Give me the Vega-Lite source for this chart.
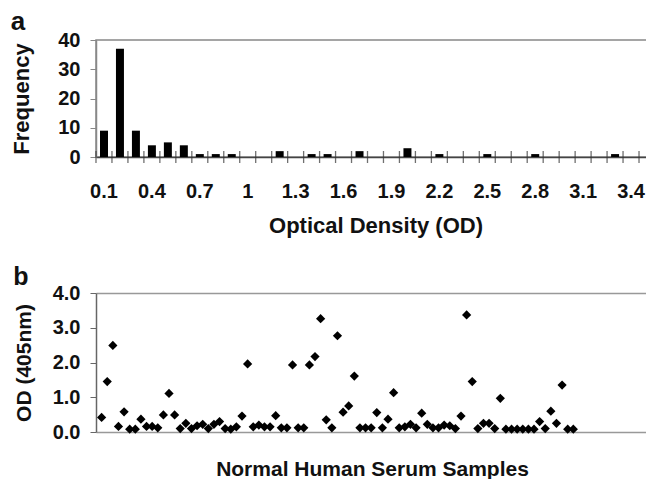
{
  "$schema": "https://vega.github.io/schema/vega-lite/v6.json",
  "background": "white",
  "padding": {"left": 10, "top": 8, "right": 3, "bottom": 0},
  "config": {
    "font": "Liberation Sans",
    "view": {"stroke": null},
    "axis": {"labelFontWeight": "bold", "titleFontWeight": "bold", "labelColor": "#111", "titleColor": "#111"}
  },
  "datasets": {
    "hist": [
      {"od": "0.1", "freq": 9}, {"od": "0.2", "freq": 37}, {"od": "0.3", "freq": 9}, {"od": "0.4", "freq": 4},
      {"od": "0.5", "freq": 5}, {"od": "0.6", "freq": 4}, {"od": "0.7", "freq": 1}, {"od": "0.8", "freq": 1},
      {"od": "0.9", "freq": 1}, {"od": "1", "freq": 0}, {"od": "1.1", "freq": 0}, {"od": "1.2", "freq": 2},
      {"od": "1.3", "freq": 0}, {"od": "1.4", "freq": 1}, {"od": "1.5", "freq": 1}, {"od": "1.6", "freq": 0},
      {"od": "1.7", "freq": 2}, {"od": "1.8", "freq": 0}, {"od": "1.9", "freq": 0}, {"od": "2", "freq": 3},
      {"od": "2.1", "freq": 0}, {"od": "2.2", "freq": 1}, {"od": "2.3", "freq": 0}, {"od": "2.4", "freq": 0},
      {"od": "2.5", "freq": 1}, {"od": "2.6", "freq": 0}, {"od": "2.7", "freq": 0}, {"od": "2.8", "freq": 1},
      {"od": "2.9", "freq": 0}, {"od": "3", "freq": 0}, {"od": "3.1", "freq": 0}, {"od": "3.2", "freq": 0},
      {"od": "3.3", "freq": 1}, {"od": "3.4", "freq": 0}, {"od": "3.5", "freq": 0}
    ],
    "samples": [
      {"sample": 1, "od": 0.42}, {"sample": 2, "od": 1.45}, {"sample": 3, "od": 2.49}, {"sample": 4, "od": 0.16},
      {"sample": 5, "od": 0.58}, {"sample": 6, "od": 0.08}, {"sample": 7, "od": 0.08}, {"sample": 8, "od": 0.37},
      {"sample": 9, "od": 0.16}, {"sample": 10, "od": 0.16}, {"sample": 11, "od": 0.12}, {"sample": 12, "od": 0.49},
      {"sample": 13, "od": 1.11}, {"sample": 14, "od": 0.49}, {"sample": 15, "od": 0.1}, {"sample": 16, "od": 0.25},
      {"sample": 17, "od": 0.1}, {"sample": 18, "od": 0.18}, {"sample": 19, "od": 0.22}, {"sample": 20, "od": 0.1},
      {"sample": 21, "od": 0.22}, {"sample": 22, "od": 0.3}, {"sample": 23, "od": 0.1}, {"sample": 24, "od": 0.08},
      {"sample": 25, "od": 0.15}, {"sample": 26, "od": 0.46}, {"sample": 27, "od": 1.96}, {"sample": 28, "od": 0.15},
      {"sample": 29, "od": 0.2}, {"sample": 30, "od": 0.15}, {"sample": 31, "od": 0.15}, {"sample": 32, "od": 0.47},
      {"sample": 33, "od": 0.12}, {"sample": 34, "od": 0.12}, {"sample": 35, "od": 1.93}, {"sample": 36, "od": 0.12},
      {"sample": 37, "od": 0.12}, {"sample": 38, "od": 1.93}, {"sample": 39, "od": 2.17}, {"sample": 40, "od": 3.26},
      {"sample": 41, "od": 0.35}, {"sample": 42, "od": 0.12}, {"sample": 43, "od": 2.77}, {"sample": 44, "od": 0.57},
      {"sample": 45, "od": 0.75}, {"sample": 46, "od": 1.61}, {"sample": 47, "od": 0.12}, {"sample": 48, "od": 0.12},
      {"sample": 49, "od": 0.12}, {"sample": 50, "od": 0.56}, {"sample": 51, "od": 0.12}, {"sample": 52, "od": 0.37},
      {"sample": 53, "od": 1.13}, {"sample": 54, "od": 0.12}, {"sample": 55, "od": 0.15}, {"sample": 56, "od": 0.22},
      {"sample": 57, "od": 0.12}, {"sample": 58, "od": 0.54}, {"sample": 59, "od": 0.22}, {"sample": 60, "od": 0.12},
      {"sample": 61, "od": 0.12}, {"sample": 62, "od": 0.2}, {"sample": 63, "od": 0.18}, {"sample": 64, "od": 0.1},
      {"sample": 65, "od": 0.46}, {"sample": 66, "od": 3.37}, {"sample": 67, "od": 1.45}, {"sample": 68, "od": 0.1},
      {"sample": 69, "od": 0.25}, {"sample": 70, "od": 0.25}, {"sample": 71, "od": 0.1}, {"sample": 72, "od": 0.97},
      {"sample": 73, "od": 0.08}, {"sample": 74, "od": 0.08}, {"sample": 75, "od": 0.08}, {"sample": 76, "od": 0.08},
      {"sample": 77, "od": 0.08}, {"sample": 78, "od": 0.08}, {"sample": 79, "od": 0.3}, {"sample": 80, "od": 0.1},
      {"sample": 81, "od": 0.6}, {"sample": 82, "od": 0.25}, {"sample": 83, "od": 1.35}, {"sample": 84, "od": 0.08},
      {"sample": 85, "od": 0.08}
    ]
  },
  "columns": 1,
  "align": "none",
  "spacing": 28,
  "concat": [
    {
      "title": {"text": "a", "anchor": "start", "frame": "bounds", "fontSize": 26, "fontWeight": "bold", "color": "#111", "offset": -5},
      "width": 559,
      "height": 117,
      "view": {"stroke": "#888", "strokeWidth": 1.5},
      "data": {"name": "hist"},
      "layer": [
        {
          "mark": {"type": "bar", "color": "black", "width": {"band": 0.5}},
          "encoding": {
            "x": {
              "field": "od", "type": "ordinal", "sort": null,
              "scale": {"paddingInner": 0, "paddingOuter": 0},
              "axis": {
                "title": "Optical Density (OD)", "titleFontSize": 22, "titlePadding": 14,
                "labelAngle": 0, "labelFontSize": 20, "labelPadding": 24,
                "labelExpr": "indexof(['0.1','0.4','0.7','1','1.3','1.6','1.9','2.2','2.5','2.8','3.1','3.4'], datum.label) >= 0 ? datum.label : ''",
                "ticks": false, "domainColor": "#444", "domainWidth": 1.5
              }
            },
            "y": {
              "field": "freq", "type": "quantitative",
              "scale": {"domain": [0, 40]},
              "axis": {
                "title": "Frequency", "titleFontSize": 22, "titlePadding": 24,
                "values": [0, 10, 20, 30, 40], "labelOverlap": false, "labelFontSize": 20, "labelPadding": 10,
                "tickSize": 6, "tickColor": "#888", "domainColor": "#888", "domainWidth": 1.5, "grid": false
              }
            }
          }
        },
        {
          "mark": {"type": "tick", "orient": "vertical", "color": "#333", "size": 12, "thickness": 1.3, "xOffset": -8},
          "encoding": {
            "x": {
              "field": "od", "type": "ordinal", "sort": null,
              "axis": {
                "title": "Optical Density (OD)", "titleFontSize": 22, "titlePadding": 14,
                "labelAngle": 0, "labelFontSize": 20, "labelPadding": 24,
                "labelExpr": "indexof(['0.1','0.4','0.7','1','1.3','1.6','1.9','2.2','2.5','2.8','3.1','3.4'], datum.label) >= 0 ? datum.label : ''",
                "ticks": false, "domainColor": "#444", "domainWidth": 1.5
              }
            },
            "y": {
              "datum": 0, "type": "quantitative",
              "axis": {
                "title": "Frequency", "titleFontSize": 22, "titlePadding": 24,
                "values": [0, 10, 20, 30, 40], "labelOverlap": false, "labelFontSize": 20, "labelPadding": 10,
                "tickSize": 6, "tickColor": "#888", "domainColor": "#888", "domainWidth": 1.5, "grid": false
              }
            }
          }
        }
      ]
    },
    {
      "title": {"text": "b", "anchor": "start", "frame": "bounds", "fontSize": 25, "fontWeight": "bold", "color": "#111", "offset": -7},
      "width": 552,
      "height": 139,
      "data": {"name": "samples"},
      "mark": {"type": "point", "shape": "diamond", "filled": true, "color": "black", "size": 85, "opacity": 1},
      "encoding": {
        "x": {
          "field": "sample", "type": "quantitative",
          "scale": {"domain": [0, 98.3], "nice": false},
          "axis": {
            "title": "Normal Human Serum Samples", "titleFontSize": 21, "titlePadding": 26,
            "labels": false, "ticks": false, "grid": false, "domainColor": "#999", "domainWidth": 1.5
          }
        },
        "y": {
          "field": "od", "type": "quantitative",
          "scale": {"domain": [0, 4], "nice": false},
          "axis": {
            "title": "OD (405nm)", "titleFontSize": 21, "titlePadding": 18,
            "values": [0, 1, 2, 3, 4], "format": ".1f", "labelFontSize": 20, "labelPadding": 10,
            "tickSize": 6, "tickColor": "#666", "domainColor": "#666", "domainWidth": 1.5,
            "grid": true, "gridColor": "#999", "gridWidth": 1.5,
            "gridOpacity": {"condition": {"test": "datum.value == 4", "value": 1}, "value": 0}
          }
        }
      }
    }
  ]
}
